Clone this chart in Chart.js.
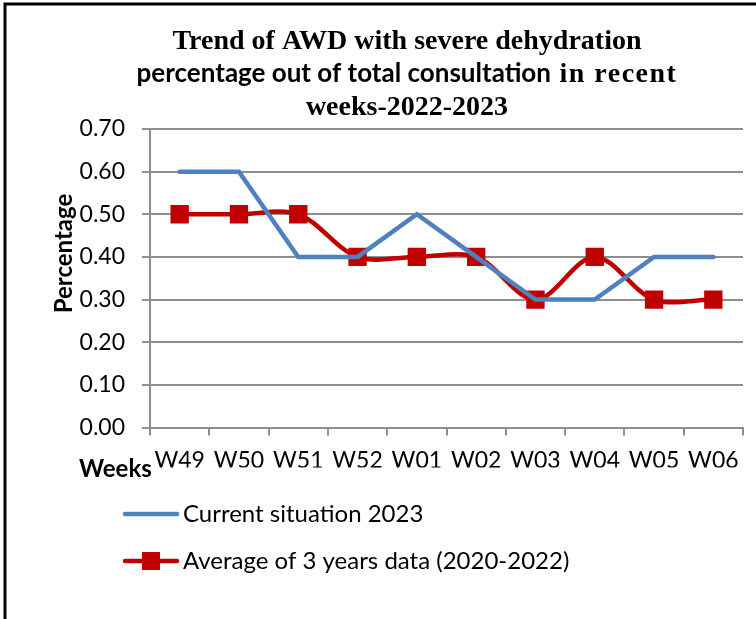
<!DOCTYPE html>
<html>
<head>
<meta charset="utf-8">
<script src="https://cdn.jsdelivr.net/npm/chart.js@4/dist/chart.umd.min.js"></script>
<style>
  html, body { margin: 0; padding: 0; background: #ffffff; }
  #wrap { position: relative; width: 756px; height: 619px; }
  canvas { display: block; }
</style>
</head>
<body>
<div id="wrap"><canvas id="c" width="756" height="619"></canvas></div>
<script>
// ---- data ----
const weeks = ['W49', 'W50', 'W51', 'W52', 'W01', 'W02', 'W03', 'W04', 'W05', 'W06'];
const currentSituation2023 = [0.6, 0.6, 0.4, 0.4, 0.5, 0.4, 0.3, 0.3, 0.4, 0.4];
const average3Years = [0.5, 0.5, 0.5, 0.4, 0.4, 0.4, 0.3, 0.4, 0.3, 0.3];
const seriesLabels = ['Current situation 2023', 'Average of 3 years data (2020-2022)'];
const titleLine1 = 'Trend of AWD with severe dehydration';
const titleLine2Sans = 'percentage out of total consultation';
const titleLine2Serif = ' in recent';
const titleLine3 = 'weeks-2022-2023';
const yAxisTitle = 'Percentage';
const xAxisTitle = 'Weeks';

const BLUE = '#4F81BD';
const RED = '#C00000';
const GRID = '#8e8e8e';
const SANS = 'Lato, "Open Sans", sans-serif';
const SERIF = '"Liberation Serif", "Times New Roman", serif';

const decor = {
  id: 'decor',
  afterDraw(chart) {
    const ctx = chart.ctx;
    ctx.save();
    // frame
    ctx.strokeStyle = '#000';
    ctx.lineWidth = 3;
    ctx.beginPath();
    ctx.moveTo(5, 619);
    ctx.lineTo(5, 4);
    ctx.lineTo(756, 4);
    ctx.stroke();

    // title
    const cx = 407;
    ctx.fillStyle = '#000';
    ctx.textBaseline = 'alphabetic';
    ctx.textAlign = 'center';
    ctx.font = 'bold 28px ' + SERIF;
    ctx.fillText(titleLine1, cx, 49);
    ctx.fillText(titleLine3, cx, 115);
    // line 2 : mixed fonts
    ctx.textAlign = 'left';
    ctx.font = 'bold 26px ' + SANS;
    const w1 = ctx.measureText(titleLine2Sans).width;
    ctx.font = 'bold 28px ' + SERIF;
    ctx.letterSpacing = '1.5px';
    const w2 = ctx.measureText(titleLine2Serif).width;
    ctx.letterSpacing = '0px';
    let x0 = cx - (w1 + w2) / 2;
    ctx.font = 'bold 26px ' + SANS;
    ctx.fillText(titleLine2Sans, x0, 82);
    ctx.font = 'bold 28px ' + SERIF;
    ctx.letterSpacing = '1.5px';
    ctx.fillText(titleLine2Serif, x0 + w1, 82);
    ctx.letterSpacing = '0px';

    // axis titles
    ctx.font = 'bold 24px ' + SANS;
    ctx.save();
    ctx.translate(72, 253.5);
    ctx.rotate(-Math.PI / 2);
    ctx.textAlign = 'center';
    ctx.fillText(yAxisTitle, 0, 0);
    ctx.restore();
    ctx.font = 'bold 24px ' + SANS;
    ctx.textAlign = 'left';
    ctx.fillText(xAxisTitle, 79, 477);

    // legend
    const ds = chart.data.datasets;
    const rows = [522, 569];
    const lineY = [514, 561];
    ds.forEach((d, i) => {
      ctx.strokeStyle = d.borderColor;
      ctx.lineWidth = 4.5;
      ctx.lineCap = 'round';
      ctx.beginPath();
      ctx.moveTo(125, lineY[i]);
      ctx.lineTo(177, lineY[i]);
      ctx.stroke();
      if (d.pointRadius > 0) {
        ctx.fillStyle = d.pointBackgroundColor;
        ctx.fillRect(142, lineY[i] - 9, 18, 18);
      }
      ctx.fillStyle = '#000';
      ctx.font = '24px ' + SANS;
      ctx.textAlign = 'left';
      ctx.fillText(d.label, 183, rows[i]);
    });
    ctx.restore();
  }
};

new Chart(document.getElementById('c'), {
  type: 'line',
  data: {
    labels: weeks,
    datasets: [
      {
        label: seriesLabels[0],
        data: currentSituation2023,
        borderColor: BLUE,
        backgroundColor: BLUE,
        borderWidth: 4.5,
        borderCapStyle: 'round',
        borderJoinStyle: 'miter',
        pointRadius: 0,
        pointHoverRadius: 0,
        tension: 0
      },
      {
        label: seriesLabels[1],
        data: average3Years,
        borderColor: RED,
        backgroundColor: RED,
        borderWidth: 4.5,
        borderCapStyle: 'round',
        pointStyle: 'rect',
        pointRadius: 13,
        pointHoverRadius: 13,
        pointBackgroundColor: RED,
        pointBorderColor: RED,
        pointBorderWidth: 0,
        tension: 0.33
      }
    ]
  },
  options: {
    responsive: false,
    animation: false,
    events: [],
    layout: { padding: { left: 0, top: 129, right: 10, bottom: 151.5 } },
    plugins: {
      legend: { display: false },
      title: { display: false },
      tooltip: { enabled: false }
    },
    scales: {
      x: {
        offset: true,
        afterFit(scale) { scale.height = 40; },
        grid: {
          offset: true,
          drawOnChartArea: false,
          drawTicks: true,
          tickLength: 8,
          color: GRID,
          lineWidth: 2
        },
        border: { color: GRID, width: 2 },
        ticks: {
          color: '#000',
          font: { family: SANS, size: 23 },
          padding: 11,
          maxRotation: 0,
          autoSkip: false
        }
      },
      y: {
        min: 0,
        max: 0.7,
        afterFit(scale) { scale.width = 150; },
        grid: {
          color: GRID,
          lineWidth: 2,
          tickLength: 8
        },
        border: { color: GRID, width: 2 },
        ticks: {
          stepSize: 0.1,
          color: '#000',
          font: { family: SANS, size: 23 },
          padding: 17,
          callback: (v) => Number(v).toFixed(2)
        }
      }
    }
  },
  plugins: [decor]
});
</script>
</body>
</html>
